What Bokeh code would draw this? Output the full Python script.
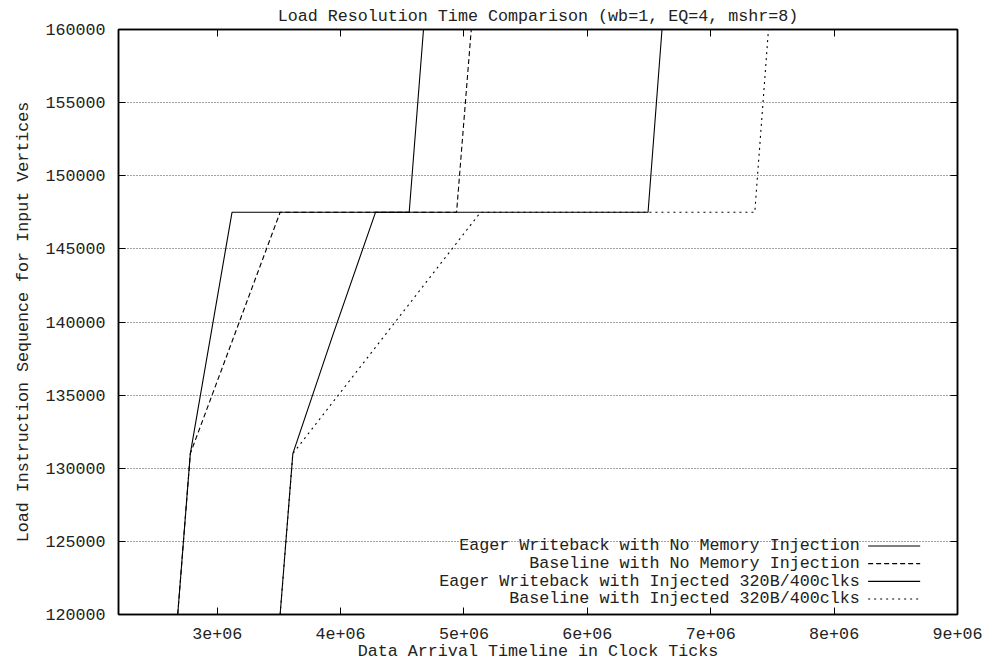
from bokeh.plotting import figure
from bokeh.models import (Range1d, FixedTicker, LinearAxis, Label, BasicTickFormatter)
from bokeh.embed import file_html
from bokeh.resources import INLINE

# ---------------- data ----------------
X_START, X_END = 2.2e6, 9.0e6
Y_START, Y_END = 120000, 160000

x_ticks = [3e6, 4e6, 5e6, 6e6, 7e6, 8e6, 9e6]
x_tick_labels = ["3e+06", "4e+06", "5e+06", "6e+06", "7e+06", "8e+06", "9e+06"]
y_ticks = [120000, 125000, 130000, 135000, 140000, 145000, 150000, 155000, 160000]

ew_noinj_x = [2.68e6, 2.782e6, 3.12e6, 4.556e6, 4.672e6]
ew_noinj_y = [120000, 131000, 147500, 147500, 160000]

base_noinj_x = [2.68e6, 2.782e6, 3.51e6, 4.94e6, 5.059e6]
base_noinj_y = [120000, 131000, 147500, 147500, 160000]

ew_inj_x = [3.51e6, 3.613e6, 3.937e6, 4.283e6, 6.492e6, 6.605e6]
ew_inj_y = [120000, 131000, 139100, 147500, 147500, 160000]

base_inj_x = [3.51e6, 3.613e6, 5.134e6, 7.357e6, 7.468e6]
base_inj_y = [120000, 131000, 147500, 147500, 160000]

series_names = ["Eager Writeback with No Memory Injection",
                "Baseline with No Memory Injection",
                "Eager Writeback with Injected 320B/400clks",
                "Baseline with Injected 320B/400clks"]

# ---------------- styles ----------------
FONT = "Liberation Mono"
FS = "16.7px"
TXT = "#222222"
dashes = ["solid", "5 3", "solid", "2 4"]

p = figure(width=984, height=663, output_backend="svg", toolbar_location=None,
           x_range=Range1d(X_START, X_END), y_range=Range1d(Y_START, Y_END),
           min_border_left=118, min_border_right=27, min_border_top=29,
           min_border_bottom=48)

p.title.text = "Load Resolution Time Comparison (wb=1, EQ=4, mshr=8)"
p.title.text_font = FONT
p.title.text_font_size = FS
p.title.text_font_style = "normal"
p.title.align = "center"
p.title.text_color = TXT
p.title.standoff = 8
p.title.offset = 0

p.outline_line_color = "black"
p.outline_line_width = 1.5
p.background_fill_color = "white"
p.border_fill_color = "white"

p.xgrid.visible = False
p.ygrid.ticker = FixedTicker(ticks=y_ticks)
p.ygrid.grid_line_color = "#444444"
p.ygrid.grid_line_dash = "1 2"
p.ygrid.grid_line_width = 1

xa = p.xaxis[0]
xa.ticker = FixedTicker(ticks=x_ticks)
xa.major_label_overrides = {t: l for t, l in zip(x_ticks, x_tick_labels)}
xa.axis_label = "Data Arrival Timeline in Clock Ticks"
ya = p.yaxis[0]
ya.ticker = FixedTicker(ticks=y_ticks)
ya.formatter = BasicTickFormatter(use_scientific=False)
ya.axis_label = "Load Instruction Sequence for Input Vertices"

for ax in (xa, ya):
    ax.major_label_text_font = FONT
    ax.major_label_text_font_size = FS
    ax.major_label_text_color = TXT
    ax.axis_label_text_font = FONT
    ax.axis_label_text_font_size = FS
    ax.axis_label_text_font_style = "normal"
    ax.axis_label_text_color = TXT
    ax.major_tick_in = 7
    ax.major_tick_out = 0
    ax.minor_tick_in = 0
    ax.minor_tick_out = 0
    ax.axis_line_color = "black"
    ax.axis_line_width = 1.5
    ax.major_tick_line_color = "black"
xa.major_label_standoff = 13
xa.axis_label_standoff = 0
ya.major_label_standoff = 13
ya.axis_label_standoff = 9

# mirror ticks (top and right)
top = LinearAxis(ticker=FixedTicker(ticks=x_ticks), major_label_text_font_size="0px",
                 major_tick_in=7, major_tick_out=0, minor_tick_in=0, minor_tick_out=0,
                 major_label_standoff=0, axis_line_color="black", axis_line_width=1.5)
right = LinearAxis(ticker=FixedTicker(ticks=y_ticks), major_label_text_font_size="0px",
                   major_tick_in=7, major_tick_out=0, minor_tick_in=0, minor_tick_out=0,
                   major_label_standoff=0, axis_line_color="black", axis_line_width=1.5)
p.add_layout(top, "above")
p.add_layout(right, "right")

# ---------------- series ----------------
all_x = [ew_noinj_x, base_noinj_x, ew_inj_x, base_inj_x]
all_y = [ew_noinj_y, base_noinj_y, ew_inj_y, base_inj_y]
for xs, ys, d in zip(all_x, all_y, dashes):
    p.line(xs, ys, line_color="black", line_width=1.1, line_dash=d)

# ---------------- legend (gnuplot style: text right-aligned, sample to the right) ----------------
xspan = X_END - X_START
yspan = Y_END - Y_START
text_right = X_END - 0.1165 * xspan
samp_x0 = X_END - 0.1065 * xspan
samp_x1 = X_END - 0.0445 * xspan
row0 = Y_START + 0.1171 * yspan
row_step = 0.0302 * yspan
for i, (name, d) in enumerate(zip(series_names, dashes)):
    yy = row0 - i * row_step
    p.add_layout(Label(x=text_right, y=yy, text=name, text_align="right",
                       text_baseline="middle", text_font=FONT, text_font_size=FS,
                       text_color=TXT))
    p.segment(x0=[samp_x0], y0=[yy], x1=[samp_x1], y1=[yy], line_color="black",
              line_width=1.1, line_dash=d)

open("out.html", "w").write(file_html(p, INLINE))
